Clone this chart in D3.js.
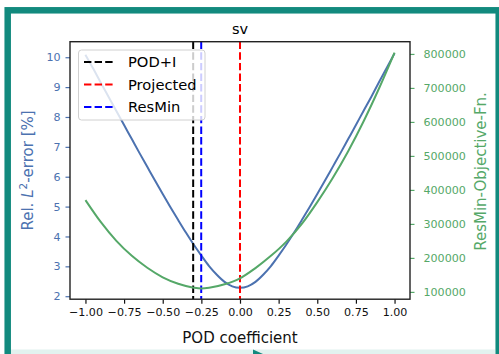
<!DOCTYPE html>
<html>
<head>
<meta charset="utf-8">
<script src="https://cdn.jsdelivr.net/npm/d3@7"></script>
<style>
  html, body { margin: 0; padding: 0; background: #fff; }
  svg { display: block; font-family: "DejaVu Sans", sans-serif; }
</style>
</head>
<body>
<svg id="chart" width="499" height="354"></svg>
<script>
// ---- data ----
const title = "sv";
const xLabel = "POD coefficient";
const xTicks = [-1, -0.75, -0.5, -0.25, 0, 0.25, 0.5, 0.75, 1];
const leftTicks = [2, 3, 4, 5, 6, 7, 8, 9, 10];
const rightTicks = [100000, 200000, 300000, 400000, 500000, 600000, 700000, 800000];

const xError = [-1, -0.95, -0.9, -0.85, -0.8, -0.75, -0.7, -0.65, -0.6, -0.55, -0.5, -0.45, -0.4, -0.35, -0.3, -0.25, -0.2, -0.15, -0.1, -0.05,
                0, 0.05, 0.1, 0.15, 0.2, 0.25, 0.3, 0.35, 0.4, 0.45, 0.5, 0.55, 0.6, 0.65, 0.7, 0.75, 0.8, 0.85, 0.9, 0.95, 1];
const relError = [10.08, 9.62, 9.14, 8.67, 8.20, 7.73, 7.26, 6.79, 6.33, 5.87, 5.42, 4.98, 4.55, 4.13, 3.73, 3.36, 3.01, 2.72, 2.48, 2.33,
                  2.28, 2.33, 2.48, 2.72, 3.01, 3.36, 3.73, 4.13, 4.55, 4.98, 5.42, 5.87, 6.33, 6.79, 7.26, 7.73, 8.21, 8.68, 9.17, 9.65, 10.13];

const xObjective = [-1, -0.9, -0.8, -0.7, -0.6, -0.5, -0.4, -0.3, -0.25, -0.2, -0.1, 0, 0.1, 0.2, 0.3, 0.4, 0.5, 0.6, 0.7, 0.8, 0.9, 1];
const objective = [370000, 305000, 250000, 206000, 171000, 143000, 124000, 112500, 110000, 112000, 122500, 140000,
                   170000, 206000, 248000, 300000, 364000, 435000, 514000, 602000, 699000, 804000];

const methodLabels = ["POD+I", "Projected", "ResMin"];
const methodCoeffs = [-0.303, 0.0, -0.251];

// ---- styles ----
const methodColors = ["#000000", "#ff0000", "#0000ff"];
const blueC = "#4c72b0", greenC = "#55a868";
const teal = "#128a7e";

const svg = d3.select("#chart");
const W = 499, H = 354;
const L = 70, R = 410, T = 41.7, B = 299.2;

// frame
svg.append("rect").attr("x", 0).attr("y", 0).attr("width", W).attr("height", H).attr("fill", "#fff");
svg.append("rect").attr("x", 11).attr("y", 349.5).attr("width", 484).attr("height", 5).attr("fill", "#e2f2ef");
svg.append("polygon").attr("points", "253,349.5 263,354 253,354").attr("fill", teal);
svg.append("rect").attr("x", 7.7).attr("y", 10.3).attr("width", 491).attr("height", 360)
  .attr("fill", "none").attr("stroke", teal).attr("stroke-width", 6.5);

const x = d3.scaleLinear().domain([-1.1, 1.1]).range([L, R]);
const yL = d3.scaleLinear().domain([1.9, 10.52]).range([B, T]);
const yR = d3.scaleLinear().domain([78500, 836000]).range([B, T]);

svg.append("defs").append("clipPath").attr("id", "clip")
  .append("rect").attr("x", L).attr("y", T).attr("width", R - L).attr("height", B - T);

const plot = svg.append("g").attr("clip-path", "url(#clip)");

// blue curve
plot.append("path")
  .datum(xError.map((d, i) => [d, relError[i]]))
  .attr("fill", "none").attr("stroke", blueC).attr("stroke-width", 2)
  .attr("d", d3.line().x(d => x(d[0])).y(d => yL(d[1])).curve(d3.curveMonotoneX));

// vertical dashed lines
methodCoeffs.forEach((c, i) => {
  plot.append("line")
    .attr("x1", x(c)).attr("x2", x(c)).attr("y1", T).attr("y2", B)
    .attr("stroke", methodColors[i]).attr("stroke-width", 2)
    .attr("stroke-dasharray", "7.4,3.2");
});

// green curve
plot.append("path")
  .datum(xObjective.map((d, i) => [d, objective[i]]))
  .attr("fill", "none").attr("stroke", greenC).attr("stroke-width", 2)
  .attr("d", d3.line().x(d => x(d[0])).y(d => yR(d[1])).curve(d3.curveMonotoneX));

// legend
const lg = svg.append("g");
lg.append("rect").attr("x", 78.5).attr("y", 50).attr("width", 126.5).attr("height", 70)
  .attr("rx", 3).attr("fill", "#fff").attr("fill-opacity", 0.8)
  .attr("stroke", "#d0d0d0").attr("stroke-width", 1);
methodLabels.forEach((lab, i) => {
  const yy = 62 + i * 22.5;
  lg.append("line").attr("x1", 84).attr("x2", 115).attr("y1", yy).attr("y2", yy)
    .attr("stroke", methodColors[i]).attr("stroke-width", 2).attr("stroke-dasharray", "7.4,3.2");
  lg.append("text").attr("x", 128).attr("y", yy).attr("dy", "0.36em")
    .attr("font-size", 14.7).attr("fill", "#000").text(lab);
});

// axes
const fmtX = d => d3.format(".2f")(d).replace("-", "\u2212");
const xAxis = svg.append("g").attr("transform", `translate(0,${B})`)
  .call(d3.axisBottom(x).tickValues(xTicks).tickFormat(fmtX).tickSize(4.5).tickPadding(4));
const lAxis = svg.append("g").attr("transform", `translate(${L},0)`)
  .call(d3.axisLeft(yL).tickValues(leftTicks).tickFormat(d3.format("d")).tickSize(4.5).tickPadding(5));
const rAxis = svg.append("g").attr("transform", `translate(${R},0)`)
  .call(d3.axisRight(yR).tickValues(rightTicks).tickFormat(d3.format("d")).tickSize(4.5).tickPadding(9));

[xAxis, lAxis, rAxis].forEach(g => {
  g.select(".domain").remove();
  g.selectAll("text").attr("font-size", 11.1).attr("font-family", "DejaVu Sans");
  g.selectAll("line").attr("stroke-width", 1.2);
});
xAxis.selectAll("line").attr("stroke", "#111");
xAxis.selectAll("text").attr("fill", "#111");
lAxis.selectAll("line").attr("stroke", blueC);
lAxis.selectAll("text").attr("fill", blueC);
rAxis.selectAll("line").attr("stroke", greenC);
rAxis.selectAll("text").attr("fill", greenC);

// spines
svg.append("rect").attr("x", L).attr("y", T).attr("width", R - L).attr("height", B - T)
  .attr("fill", "none").attr("stroke", "#222").attr("stroke-width", 1.4);

// title & labels
svg.append("text").attr("x", (L + R) / 2).attr("y", 34).attr("text-anchor", "middle")
  .attr("font-size", 14.5).attr("fill", "#000").text(title);
svg.append("text").attr("x", (L + R) / 2).attr("y", 342.5).attr("text-anchor", "middle")
  .attr("font-size", 15).attr("fill", "#111").text(xLabel);

const yl = svg.append("text").attr("transform", `translate(32.5,${(T + B) / 2}) rotate(-90)`)
  .attr("text-anchor", "middle").attr("font-size", 15).attr("fill", blueC);
yl.append("tspan").text("Rel. ");
yl.append("tspan").attr("font-style", "italic").text("L");
yl.append("tspan").attr("font-size", 10.5).attr("dy", -6).text("2");
yl.append("tspan").attr("dy", 6).text("-error [%]");

svg.append("text").attr("transform", `translate(485.5,${(T + B) / 2 + 1}) rotate(-90)`)
  .attr("text-anchor", "middle").attr("font-size", 15).attr("fill", greenC)
  .text("ResMin-Objective-Fn.");
</script>
</body>
</html>
